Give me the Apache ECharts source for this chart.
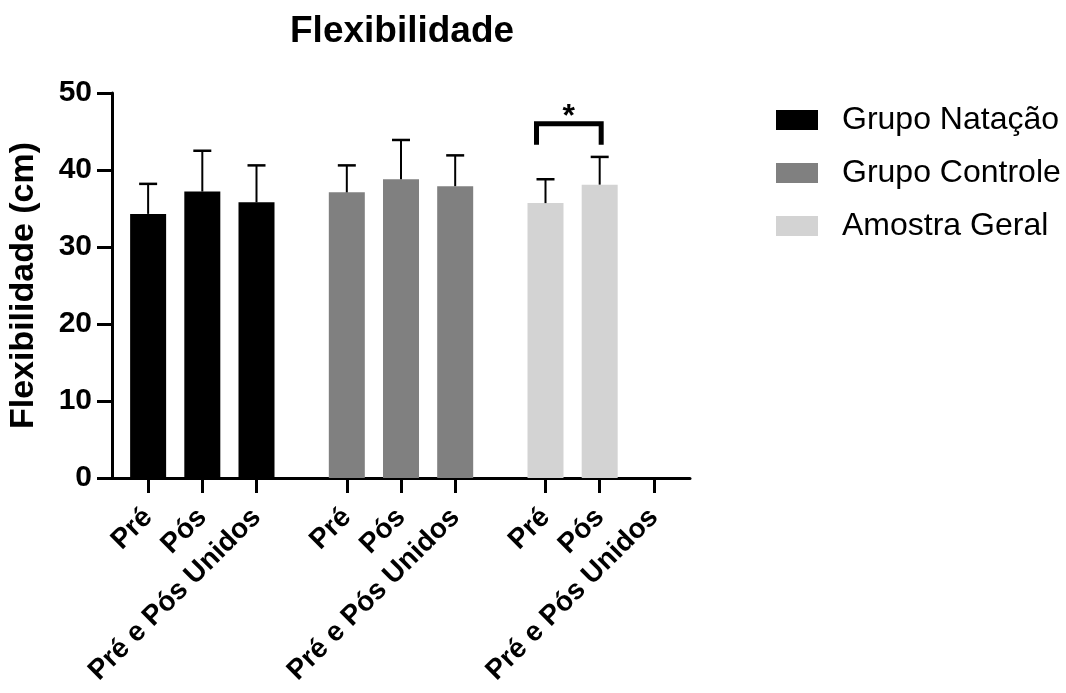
<!DOCTYPE html>
<html>
<head>
<meta charset="utf-8">
<script src="https://cdn.jsdelivr.net/npm/echarts@6/dist/echarts.min.js"></script>
<style>
  html, body { margin: 0; padding: 0; background: #fff; }
  #chart { width: 1066px; height: 693px; }
</style>
</head>
<body>
<div id="chart"></div>
<script>
const groups = ["Grupo Natação", "Grupo Controle", "Amostra Geral"];
const categories = ["Pré", "Pós", "Pré e Pós Unidos"];
const natacaoMean = [34.3, 37.2, 35.8];
const natacaoSD = [3.9, 5.3, 4.8];
const controleMean = [37.1, 38.8, 37.9];
const controleSD = [3.5, 5.1, 4.0];
const geralMean = [35.7, 38.1, null];
const geralSD = [3.1, 3.6, null];
const yTicks = [0, 10, 20, 30, 40, 50];
const sigLevel = 46; // significance bracket, Pré vs Pós (Amostra Geral)

const colors = ["#000000", "#808080", "#d3d3d3"];
const FONT = "'Liberation Sans', Arial, Helvetica, sans-serif";
const means = [natacaoMean, controleMean, geralMean];
const sds = [natacaoSD, controleSD, geralSD];

// x slot for group g, category i (groups separated by a wider gap)
const slot = (g, i) => g * 11 + i * 3;
const tickPos = [];
const tickName = {};
groups.forEach((_, g) => categories.forEach((c, i) => {
  tickPos.push(slot(g, i));
  tickName[slot(g, i)] = c;
}));

const barSeries = groups.map((name, g) => ({
  name: name,
  type: "bar",
  barWidth: 36,
  barGap: "-100%",
  itemStyle: { color: colors[g] },
  data: means[g].map((v, i) => [slot(g, i), v]).filter(d => d[1] != null),
}));

const errData = [];
groups.forEach((_, g) => means[g].forEach((v, i) => {
  if (v != null) errData.push([slot(g, i), v, sds[g][i]]);
}));

const chart = echarts.init(document.getElementById("chart"));
chart.setOption({
  animation: false,
  textStyle: { fontFamily: FONT },
  title: {
    text: "Flexibilidade",
    left: 285,
    top: 8,
    textStyle: { fontSize: 37, fontWeight: "bold", color: "#000", fontFamily: FONT },
  },
  legend: {
    data: groups,
    orient: "vertical",
    left: 776,
    top: 104,
    icon: "rect",
    itemWidth: 42,
    itemHeight: 20,
    itemGap: 21,
    padding: 0,
    textStyle: { fontSize: 32, color: "#000", padding: [0, 0, 0, 19], fontFamily: FONT },
  },
  grid: { left: 112, right: 376, top: 93, bottom: 215, outerBoundsMode: "none", containLabel: false },
  xAxis: {
    type: "value",
    min: -2,
    max: 30,
    splitLine: { show: false },
    axisLine: { onZero: false, lineStyle: { color: "#000", width: 3 } },
    axisTick: { customValues: tickPos, length: 15, lineStyle: { color: "#000", width: 3 } },
    axisLabel: {
      customValues: tickPos,
      formatter: v => tickName[v] || "",
      rotate: 45,
      margin: 35,
      fontSize: 28,
      fontWeight: "bold",
      color: "#000",
      fontFamily: FONT,
    },
  },
  yAxis: {
    type: "value",
    min: 0,
    max: 50,
    interval: 10,
    name: "Flexibilidade (cm)",
    nameLocation: "middle",
    nameGap: 71,
    nameTextStyle: { fontSize: 34, fontWeight: "bold", color: "#000", fontFamily: FONT },
    splitLine: { show: false },
    axisLine: { show: true, onZero: false, lineStyle: { color: "#000", width: 3 } },
    axisTick: { show: true, length: 15, lineStyle: { color: "#000", width: 3 } },
    axisLabel: {
      margin: 20,
      fontSize: 30,
      fontWeight: "bold",
      color: "#000",
      fontFamily: FONT,
      formatter: v => (yTicks.includes(v) ? String(v) : ""),
    },
  },
  series: [
    ...barSeries,
    {
      type: "custom",
      z: 5,
      data: errData,
      renderItem: (params, api) => {
        const x = api.value(0), m = api.value(1), sd = api.value(2);
        const base = api.coord([x, m]);
        const top = api.coord([x, m + sd]);
        return {
          type: "group",
          children: [
            { type: "line", shape: { x1: base[0], y1: base[1], x2: top[0], y2: top[1] }, style: { stroke: "#000", lineWidth: 2 } },
            { type: "line", shape: { x1: top[0] - 9, y1: top[1], x2: top[0] + 9, y2: top[1] }, style: { stroke: "#000", lineWidth: 2.5 } },
          ],
        };
      },
    },
    {
      type: "custom",
      z: 6,
      data: [[slot(2, 0), slot(2, 1), sigLevel]],
      renderItem: (params, api) => {
        const a = api.coord([api.value(0), api.value(2)]);
        const b = api.coord([api.value(1), api.value(2)]);
        const xl = a[0] - 9, xr = b[0] + 1.5, y = a[1];
        return {
          type: "group",
          children: [
            { type: "polyline", shape: { points: [[xl, y + 21], [xl, y], [xr, y], [xr, y + 21]] }, style: { stroke: "#000", lineWidth: 5, fill: null, lineJoin: "miter" } },
            { type: "text", style: { text: "*", x: (xl + xr) / 2, y: y + 9, align: "center", verticalAlign: "bottom", fontSize: 32, fontWeight: "bold", fill: "#000", fontFamily: FONT } },
          ],
        };
      },
    },
  ],
});
</script>
</body>
</html>
